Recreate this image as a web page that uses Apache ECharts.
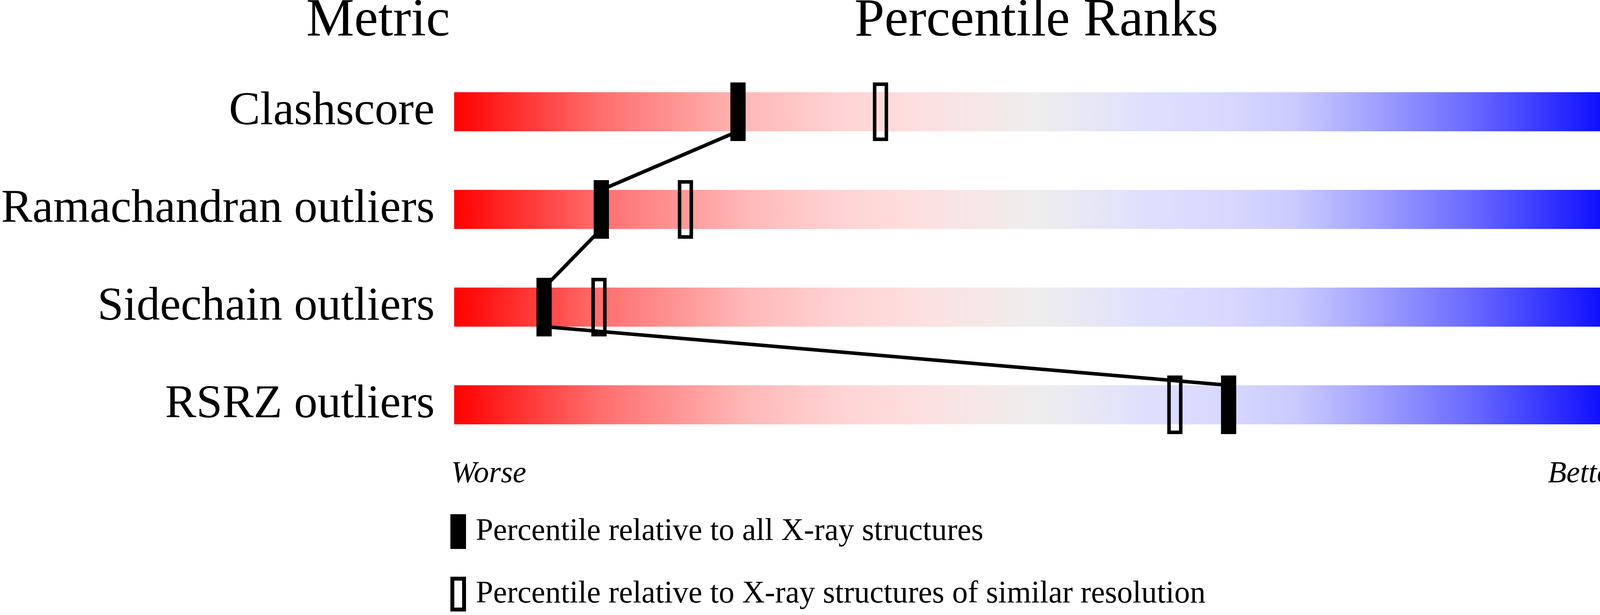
<!DOCTYPE html>
<html>
<head>
<meta charset="utf-8">
<script src="https://cdn.jsdelivr.net/npm/echarts@6/dist/echarts.min.js"></script>
<style>
html,body{margin:0;padding:0;background:#ffffff;}
#chart{width:4485px;height:1574px;}
</style>
</head>
<body>
<div id="chart"></div>
<script>
// ---- data ----
const metrics = ['Clashscore', 'Ramachandran outliers', 'Sidechain outliers', 'RSRZ outliers'];
const valueLabels = ['10', '1.0%', '9.7%', '1.9%'];
const pctAll = [24.3, 12.6, 7.7, 66.3];
const pctSimilar = [36.5, 19.8, 12.4, 61.7];
const sliderFull = [100, 100, 100, 100];
const legendNames = ['Percentile relative to all X-ray structures',
                     'Percentile relative to X-ray structures of similar resolution'];
const headers = ['Metric', 'Percentile Ranks', 'Value'];
const scaleEnds = ['Worse', 'Better'];

// ---- style ----
const FONT = '"Liberation Serif", "Times New Roman", serif';
const BAR_H = 100, MK_W = 39, MK_H = 150, MK_BORDER = 9, LINE_W = 9;
const gradStops = [
  [0.00, '#ff0000'], [0.125, '#ff6e6e'], [0.25, '#ffb8b8'], [0.33, '#ffd3d3'],
  [0.40, '#fde0e0'], [0.50, '#eeeeee'], [0.60, '#dedefe'], [0.66, '#d8d8ff'],
  [0.72, '#cacaff'], [0.78, '#a6a6ff'], [0.87, '#6a6aff'], [1.00, '#0000ff']
];

const chart = echarts.init(document.getElementById('chart'), null, {renderer: 'canvas'});

const gradient = new echarts.graphic.LinearGradient(0, 0, 1, 0,
  gradStops.map(s => ({offset: s[0], color: s[1]})));

const linkData = pctAll.slice(0, -1).map((p, i) => [p, i, pctAll[i + 1], i + 1]);

const legendText = {fontFamily: FONT, fontSize: 80, color: '#000', lineHeight: 24, padding: [33, 0, 0, 20]};

const option = {
  animation: false,
  backgroundColor: '#ffffff',
  grid: {left: 1153, top: 161, width: 3000, height: 1000, containLabel: false},
  xAxis: {type: 'value', min: 0, max: 100, show: false},
  yAxis: [
    {
      type: 'category', data: metrics, inverse: true, position: 'left',
      axisLine: {show: false}, axisTick: {show: false}, splitLine: {show: false},
      axisLabel: {fontFamily: FONT, fontSize: 120, color: '#000', margin: 50, padding: [27, 0, 0, 0]}
    },
    {
      type: 'category', data: valueLabels, inverse: true, position: 'right',
      axisLine: {show: false}, axisTick: {show: false}, splitLine: {show: false},
      axisLabel: {fontFamily: FONT, fontSize: 120, color: '#000', margin: 50, padding: [27, 0, 0, 0]}
    }
  ],
  legend: [
    {
      orient: 'vertical', left: 1148, top: 1311, itemWidth: 40, itemHeight: 89,
      selectedMode: false,
      data: [{name: legendNames[0], icon: 'rect'}],
      itemStyle: {color: '#000'},
      textStyle: legendText
    },
    {
      orient: 'vertical', left: 1148, top: 1471, itemWidth: 40, itemHeight: 89,
      selectedMode: false,
      data: [{name: legendNames[1], icon: 'path://M0,0H40V89H0Z M10,10V79H30V10Z'}],
      itemStyle: {color: '#000'},
      textStyle: legendText
    }
  ],
  graphic: [
    {type: 'text', x: 968, y: 55, style: {text: headers[0], fontFamily: FONT, fontSize: 138, fill: '#000', align: 'center', verticalAlign: 'middle'}},
    {type: 'text', x: 2653, y: 55, style: {text: headers[1], fontFamily: FONT, fontSize: 138, fill: '#000', align: 'center', verticalAlign: 'middle'}},
    {type: 'text', x: 4319, y: 55, style: {text: headers[2], fontFamily: FONT, fontSize: 138, fill: '#000', align: 'center', verticalAlign: 'middle'}},
    {type: 'text', x: 1155, y: 1213, style: {text: scaleEnds[0], fontFamily: FONT, fontStyle: 'italic', fontSize: 78, fill: '#000', align: 'left', verticalAlign: 'middle'}},
    {type: 'text', x: 4153, y: 1213, style: {text: scaleEnds[1], fontFamily: FONT, fontStyle: 'italic', fontSize: 78, fill: '#000', align: 'right', verticalAlign: 'middle'}}
  ],
  series: [
    {
      type: 'bar', yAxisIndex: 0, data: sliderFull, barWidth: BAR_H, silent: true,
      itemStyle: {color: gradient}, z: 1
    },
    {
      type: 'custom', yAxisIndex: 0, silent: true, z: 3,
      data: linkData,
      encode: {x: [0, 2], y: [1, 3]},
      renderItem: function (params, api) {
        const a = api.coord([api.value(0), api.value(1)]);
        const b = api.coord([api.value(2), api.value(3)]);
        return {
          type: 'line',
          shape: {x1: a[0], y1: a[1] + BAR_H / 2, x2: b[0], y2: b[1] - BAR_H / 2},
          style: {stroke: '#000', lineWidth: LINE_W}
        };
      }
    },
    {
      name: legendNames[1], type: 'custom', yAxisIndex: 0, silent: true, z: 4,
      itemStyle: {color: '#000'},
      data: pctSimilar.map((p, i) => [p, i]),
      encode: {x: 0, y: 1},
      renderItem: function (params, api) {
        const c = api.coord([api.value(0), api.value(1)]);
        const h = MK_BORDER / 2;
        return {
          type: 'rect',
          shape: {x: c[0] - MK_W / 2 + h, y: c[1] - MK_H / 2 + h, width: MK_W - MK_BORDER, height: MK_H - MK_BORDER},
          style: {fill: 'none', stroke: '#000', lineWidth: MK_BORDER}
        };
      }
    },
    {
      name: legendNames[0], type: 'custom', yAxisIndex: 0, silent: true, z: 5,
      itemStyle: {color: '#000'},
      data: pctAll.map((p, i) => [p, i]),
      encode: {x: 0, y: 1},
      renderItem: function (params, api) {
        const c = api.coord([api.value(0), api.value(1)]);
        return {
          type: 'rect',
          shape: {x: c[0] - MK_W / 2, y: c[1] - MK_H / 2, width: MK_W, height: MK_H},
          style: {fill: '#000'}
        };
      }
    }
  ]
};

chart.setOption(option);
</script>
</body>
</html>
